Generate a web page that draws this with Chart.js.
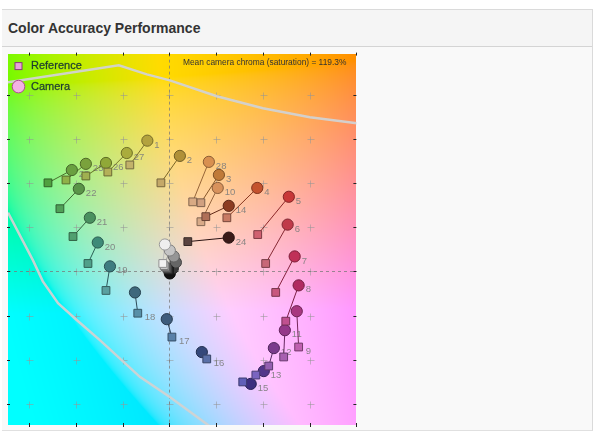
<!DOCTYPE html>
<html>
<head>
<meta charset="utf-8">
<title>Color Accuracy Performance</title>
<script src="https://cdn.jsdelivr.net/npm/chart.js@4.4.1/dist/chart.umd.min.js"></script>
<style>
  body { margin: 0; background: #fff; font-family: Arial, "Liberation Sans", sans-serif; }
  #panel { position: absolute; left: 2px; top: 9px; width: 590px; height: 420px; background: #f9f9f9;
           border-top: 1px solid #dadada; border-right: 1px solid #dadada; border-bottom: 1px solid #e0e0e0; }
  #head { height: 36px; background: #f5f5f5; border-bottom: 1px solid #d4d4d4; }
  #head h2 { margin: 0; padding-left: 6px; line-height: 36px; font-size: 14px; font-weight: bold; color: #333; }
  #chartBox { position: absolute; left: 0; top: 47px; width: 363px; height: 385px; }
</style>
</head>
<body>
<div id="panel"><div id="head"><h2>Color Accuracy Performance</h2></div></div>
<div id="chartBox"><canvas id="chartColor" width="363" height="385"></canvas></div>

<script>
// Patch numbers and a*b* values (camera = circles, reference = squares)
const patches = [1, 2, 3, 4, 5, 6, 7, 8, 9, 10, 11, 12, 13, 14, 15, 16, 17, 18, 19, 20, 21, 22, 23, 24, 25, 26, 27, 28];
const camA = [-9.4, 4.5, 21.2, 37.6, 51.1, 50.6, 53.6, 55.3, 54.5, 20.7, 49.4, 44.7, 40.4, 25.4, 34.8, 13.9, -1.1, -14.7, -25.4, -30.6, -34.0, -38.7, -41.7, 25.4, -35.7, -27.1, -18.2, 16.9];
const camB = [59.2, 52.3, 43.7, 37.8, 33.8, 21.2, 6.8, -6.3, -18.0, 37.8, -26.6, -34.7, -45.1, 29.7, -50.9, -36.5, -21.6, -9.5, 2.3, 13.1, 24.3, 37.4, 45.9, 15.3, 48.7, 49.1, 53.6, 49.6];
const refA = [-16.9, -3.6, 13.5, 24.6, 37.8, 41.2, 45.5, 49.8, 55.3, 13.5, 48.9, 42.5, 37.0, 15.6, 31.4, 16.0, 1.1, -13.5, -27.1, -34.8, -41.2, -46.8, -51.9, 7.9, -44.2, -35.7, -26.3, 10.0];
const refB = [48.2, 40.1, 31.1, 24.3, 16.7, 3.6, -9.5, -22.5, -34.2, 22.5, -38.7, -42.8, -46.9, 24.8, -50.0, -39.6, -29.7, -18.9, -8.6, 3.6, 15.8, 28.4, 40.1, 13.5, 41.4, 43.2, 45.0, 31.5];

// Neutral patches (black -> white), no labels
const grayCamA = [0.2, 1.5, 2.8, 1.9, 0.2, -1.9];
const grayCamB = [-0.9, 1.4, 4.1, 6.8, 9.5, 12.2];
const grayRefA = [0.0, -0.5, -1.0, -1.6, -2.2, -2.8];
const grayRefB = [0.2, 0.8, 1.4, 2.0, 2.6, 3.6];

// Gamut boundary curves
const gamutTopA = [-69, -21.6, -9.6, 0.2, 20.3, 40.0, 60.1, 80.2];
const gamutTopB = [85.6, 93.3, 89.2, 86.5, 79.3, 73.9, 69.8, 67.1];
const gamutLowA = [-69, -58.3, -54.1, -47.6, -39.5, -29.7, -12.6, 0.2, 18.5];
const gamutLowB = [26.6, 5.0, -4.5, -14.4, -22.1, -31.1, -47.7, -56.8, -71];

const xTicks = [-60, -40, -20, 0, 20, 40, 60, 80];
const yTicks = [-60, -40, -20, 0, 20, 40, 60, 80];
const labelOnRef = [9, 16, 17, 18];
const legendNames = ['Reference', 'Camera'];
const chromaText = 'Mean camera chroma (saturation) = 119.3%';

// Marker colours
const camColors = ['#b3a23e', '#b09038', '#c07a38', '#c4522e', '#c83838', '#c03a4a', '#c03058', '#b02a60', '#a83880', '#d8925c',
                   '#94388a', '#7a3c8c', '#52368a', '#8c3c22', '#3c2e80', '#34487a', '#3e5c7c', '#3e687c', '#3e7c80', '#3e8a78',
                   '#4a9060', '#5a9448', '#6aa040', '#3a1a18', '#7aa23c', '#90a838', '#aaac3c', '#d89050'];
const refColors = ['#c2b26a', '#c4a868', '#d0a080', '#c87a64', '#d06070', '#c86878', '#c8587e', '#c05090', '#c060b0', '#d8aa88',
                   '#a860b0', '#9460b0', '#7a64c0', '#b07058', '#6060b8', '#5a70a8', '#5880a8', '#5890a8', '#5aa0a0', '#50a08a',
                   '#50a070', '#50a058', '#50a040', '#5a4440', '#90b048', '#a0b050', '#b4b058', '#d8aa84'];
const grayCamColors = ['#121212', '#383838', '#666666', '#959595', '#c4c4c4', '#eeeeee'];
const grayRefColors = ['#202020', '#444444', '#707070', '#9a9a9a', '#c8c8c8', '#f2f2f2'];

function shade(hex, f) {
    const n = parseInt(hex.slice(1), 16);
    const r = Math.round(((n >> 16) & 255) * f);
    const g = Math.round(((n >> 8) & 255) * f);
    const b = Math.round((n & 255) * f);
    return `rgb(${r},${g},${b})`;
}

function labToRgb(L, a, b) {
    const fy = (L + 16) / 116;
    const fx = fy + a / 500;
    const fz = fy - b / 200;
    const inv = t => (t * t * t > 0.008856 ? t * t * t : (116 * t - 16) / 903.3);
    const X = inv(fx) * 0.95047, Y = inv(fy), Z = inv(fz) * 1.08883;
    let r = 3.2406 * X - 1.5372 * Y - 0.4986 * Z;
    let g = -0.9689 * X + 1.8758 * Y + 0.0415 * Z;
    let bl = 0.0557 * X - 0.2040 * Y + 1.0570 * Z;
    const gam = c => {
        c = Math.min(1, Math.max(0, c));
        return 255 * (c <= 0.0031308 ? 12.92 * c : 1.055 * Math.pow(c, 1 / 2.4) - 0.055);
    };
    return [gam(r), gam(g), gam(bl)];
}

function pts(xs, ys) {
    return xs.map((v, i) => ({ x: v, y: ys[i] }));
}

// Background, crosses, dashed axes and patch numbers
const fondoPlugin = {
    id: 'fondo',
    beforeDatasetsDraw(chart) {
        const { ctx, chartArea: area, scales: { x, y } } = chart;
        if (!chart.$fondo) {
            const w = Math.round(area.width), h = Math.round(area.height);
            const off = document.createElement('canvas');
            off.width = w; off.height = h;
            const octx = off.getContext('2d');
            const img = octx.createImageData(w, h);
            for (let j = 0; j < h; j++) {
                const bv = y.getValueForPixel(area.top + j + 0.5);
                for (let i = 0; i < w; i++) {
                    const av = x.getValueForPixel(area.left + i + 0.5);
                    const c = labToRgb(88, av, bv);
                    const k = (j * w + i) * 4;
                    img.data[k] = c[0]; img.data[k + 1] = c[1]; img.data[k + 2] = c[2]; img.data[k + 3] = 255;
                }
            }
            octx.putImageData(img, 0, 0);
            chart.$fondo = off;
        }
        ctx.save();
        ctx.drawImage(chart.$fondo, area.left, area.top, area.width, area.height);

        // grid crosses
        ctx.strokeStyle = 'rgba(150,150,150,0.55)';
        ctx.lineWidth = 1;
        xTicks.forEach(tx => {
            yTicks.forEach(ty => {
                const px = Math.round(x.getPixelForValue(tx)) + 0.5;
                const py = Math.round(y.getPixelForValue(ty)) + 0.5;
                if (px <= area.left + 2 || px >= area.right - 2 || py <= area.top + 2 || py >= area.bottom - 2) return;
                ctx.beginPath();
                ctx.moveTo(px - 3, py); ctx.lineTo(px + 4, py);
                ctx.moveTo(px, py - 3); ctx.lineTo(px, py + 4);
                ctx.stroke();
            });
        });

        // dashed zero lines
        ctx.strokeStyle = 'rgba(120,120,120,0.75)';
        ctx.setLineDash([3, 3]);
        const x0 = Math.round(x.getPixelForValue(0)) + 0.5;
        const y0 = Math.round(y.getPixelForValue(0)) + 0.5;
        ctx.beginPath();
        ctx.moveTo(x0, area.top); ctx.lineTo(x0, area.bottom);
        ctx.moveTo(area.left, y0); ctx.lineTo(area.right, y0);
        ctx.stroke();
        ctx.setLineDash([]);

        // patch numbers
        ctx.font = '9.5px Arial, "Liberation Sans", sans-serif';
        ctx.fillStyle = 'rgba(125,125,125,0.9)';
        ctx.textAlign = 'left';
        ctx.textBaseline = 'middle';
        patches.forEach((p, i) => {
            const onRef = labelOnRef.includes(p);
            const px = x.getPixelForValue(onRef ? refA[i] : camA[i]);
            const py = y.getPixelForValue(onRef ? refB[i] : camB[i]);
            ctx.fillText(String(p), px + 7, py + 4.5);
        });
        ctx.restore();
    },
    afterDraw(chart) {
        const { ctx, chartArea: area, scales: { x, y } } = chart;
        ctx.save();
        // edge ticks
        ctx.strokeStyle = '#222';
        ctx.lineWidth = 1;
        ctx.beginPath();
        xTicks.forEach(tx => {
            const px = Math.round(x.getPixelForValue(tx)) + 0.5;
            if (px > area.right + 1) return;
            ctx.moveTo(px, area.top - 1); ctx.lineTo(px, area.top + 2);
            ctx.moveTo(px, area.bottom - 2); ctx.lineTo(px, area.bottom + 2);
        });
        yTicks.forEach(ty => {
            const py = Math.round(y.getPixelForValue(ty)) + 0.5;
            ctx.moveTo(area.left - 1, py); ctx.lineTo(area.left + 2, py);
            ctx.moveTo(area.right - 3, py); ctx.lineTo(area.right, py);
        });
        ctx.stroke();

        // chroma note
        ctx.font = '8.4px Arial, "Liberation Sans", sans-serif';
        ctx.fillStyle = '#333';
        ctx.textAlign = 'right';
        ctx.textBaseline = 'middle';
        ctx.fillText(chromaText, area.right - 10, area.top + 9);

        // legend
        const lx = area.left + 10.5;
        ctx.fillStyle = '#e9a3d9';
        ctx.strokeStyle = '#8a3c78';
        ctx.fillRect(lx - 3.5, area.top + 9, 7, 7);
        ctx.strokeRect(lx - 3.5, area.top + 9, 7, 7);
        ctx.beginPath();
        ctx.arc(lx, area.top + 33, 6.3, 0, Math.PI * 2);
        ctx.fillStyle = '#f2b2e4';
        ctx.fill();
        ctx.strokeStyle = '#b04c94';
        ctx.stroke();
        ctx.font = '11px Arial, "Liberation Sans", sans-serif';
        ctx.fillStyle = '#1c3a30';
        ctx.strokeStyle = 'rgba(28,58,48,0.6)';
        ctx.lineWidth = 0.4;
        ctx.textAlign = 'left';
        [12.5, 33].forEach((dy, i) => {
            ctx.fillText(legendNames[i], area.left + 23, area.top + dy);
            ctx.strokeText(legendNames[i], area.left + 23, area.top + dy);
        });
        ctx.restore();
    }
};

const datasets = [];

// gamut curves
[[gamutTopA, gamutTopB], [gamutLowA, gamutLowB]].forEach(g => {
    datasets.push({
        data: pts(g[0], g[1]),
        showLine: true,
        pointRadius: 0,
        borderColor: 'rgba(210,210,210,0.95)',
        borderWidth: 2.5,
        tension: 0,
        order: 3
    });
});

// connecting lines
patches.forEach((p, i) => {
    datasets.push({
        data: [{ x: refA[i], y: refB[i] }, { x: camA[i], y: camB[i] }],
        showLine: true,
        pointRadius: 0,
        borderColor: shade(camColors[i], 0.7),
        borderWidth: 1,
        order: 2
    });
});
grayCamA.forEach((v, i) => {
    datasets.push({
        data: [{ x: grayRefA[i], y: grayRefB[i] }, { x: v, y: grayCamB[i] }],
        showLine: true,
        pointRadius: 0,
        borderColor: shade(grayCamColors[i], 0.8),
        borderWidth: 1,
        order: 2
    });
});

// camera circles
datasets.push({
    label: legendNames[1],
    data: pts(camA, camB).concat(pts(grayCamA, grayCamB)),
    pointStyle: 'circle',
    pointRadius: 5.6,
    backgroundColor: camColors.concat(grayCamColors),
    borderColor: camColors.concat(grayCamColors).map(c => shade(c, 0.65)),
    borderWidth: 1,
    order: 1
});

// reference squares
datasets.push({
    label: legendNames[0],
    data: pts(grayRefA, grayRefB).concat(pts(refA, refB)),
    pointStyle: 'rect',
    pointRadius: 5.5,
    backgroundColor: grayRefColors.concat(refColors),
    borderColor: grayRefColors.concat(refColors).map(c => shade(c, 0.6)),
    borderWidth: 1,
    order: 0
});

const chart = new Chart(document.getElementById('chartColor').getContext('2d'), {
    type: 'scatter',
    data: { datasets: datasets },
    options: {
        responsive: false,
        animation: false,
        events: [],
        layout: { padding: { left: 8, top: 5, right: 5, bottom: 7 } },
        plugins: {
            legend: { display: false },
            tooltip: { enabled: false }
        },
        scales: {
            x: { type: 'linear', min: -69, max: 80, display: false },
            y: { type: 'linear', min: -69.5, max: 98.6, display: false }
        }
    },
    plugins: [fondoPlugin]
});
</script>
</body>
</html>
